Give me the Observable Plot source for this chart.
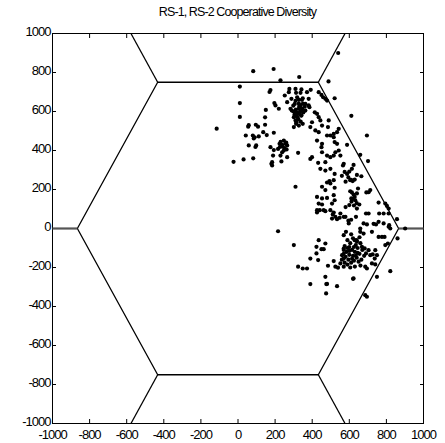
<!DOCTYPE html>
<html>
<head>
<meta charset="utf-8">
<script src="https://cdn.jsdelivr.net/npm/d3@7"></script>
<script src="https://cdn.jsdelivr.net/npm/@observablehq/plot@0.6"></script>
<style>
  body { margin: 0; background: #fff; }
  #wrap { position: relative; width: 445px; height: 443px; }
  #title { position: absolute; top: 5px; left: 0; width: 475px; text-align: center;
           font-family: "Liberation Sans", Arial, sans-serif; font-size: 12.5px; letter-spacing: -0.9px; color: #000; }
  svg text { letter-spacing: -1px; }
</style>
</head>
<body>
<div id="wrap"><div id="title"></div></div>
<script>
const title = "RS-1, RS-2 Cooperative Diversity";
const xTicks = [-1000, -800, -600, -400, -200, 0, 200, 400, 600, 800, 1000];
const yTicks = [-1000, -800, -600, -400, -200, 0, 200, 400, 600, 800, 1000];

// hexagonal cell outline and spokes to neighbouring cells
const hexX = [866, 433, -433, -866, -433, 433, 866];
const hexY = [0, 750, 750, 0, -750, -750, 0];
const spokeX1 = [433, -433, -433, 433];
const spokeY1 = [750, 750, -750, -750];
const spokeX2 = [577, -577, -577, 577];
const spokeY2 = [1000, 1000, -1000, -1000];
const sideX1 = [866, -866];
const sideX2 = [1000, -1000];

// user positions
const upperPts = [
  [540,900],[82,807],[192,818],[229,760],[330,777],[488,754],[10,728],[10,643],[10,572],[-115,512],
  [175,710],[170,700],[196,643],[150,608],[146,570],[146,532],[58,530],[55,522],[96,532],[108,522],
  [42,477],[80,477],[90,468],[85,462],[112,472],[136,494],[155,479],[193,491],[58,426],[98,426],[94,418],[175,417],[193,402],
  [277,716],[310,716],[342,713],[392,711],[274,699],[313,696],[337,696],[372,699],[435,699],[450,685],[459,673],[471,665],
  [480,656],[521,668],[252,682],[288,665],[319,673],[328,660],[349,668],[381,665],[265,648],[306,639],[337,631],[363,639],
  [381,631],[328,614],[346,605],[317,596],[331,588],[202,631],[220,614],[283,614],[301,571],[310,554],[324,562],[342,579],
  [363,605],[385,622],[313,537],[328,528],[301,520],[349,537],[414,596],[426,588],[435,571],[444,554],[453,528],[399,545],
  [390,520],[417,503],[485,520],[489,554],[516,468],[534,494],[543,511],[435,494],[426,451],[453,434],[480,477],[498,477],
  [516,485],[534,434],[521,443],[543,400],[450,417],[247,451],[256,434],[265,426],[238,429],[224,434],[216,408],[247,400],
  [300,600],[312,610],[322,590],[335,600],[345,615],[330,625],[318,575],[305,585],[340,580],[352,595],[325,560],[315,545],
  [338,548],[290,605],[298,630],[350,640],[360,625],[328,640],[310,655],[345,660],
  [240,420],[252,412],[260,440],[230,445],[262,405],[226,418],
  [611,578],[695,477],[588,429],[659,378],[701,346]
];
const middlePts = [
  [189,374],[-24,342],[30,354],[82,360],[184,340],[184,323],[180,332],
  [525,391],[516,374],[498,366],[453,391],[480,374],[471,340],[432,337],[444,306],[471,297],[498,306],[521,280],[570,332],
  [552,374],[390,357],[399,366],[324,388],[238,391],[229,374],[265,366],[234,344],
  [623,326],[614,306],[600,292],[588,280],[641,275],[665,268],
  [310,214],[453,214],[480,236],[493,243],[498,231],[516,248],[521,209],[471,197],[426,162],[453,154],[480,157],[435,128],
  [453,123],[516,171],[521,145],[507,128],[426,94],[426,82],[441,94],[462,94],[471,89],[498,94],[516,82],[511,72],[525,60],
  [507,51],[534,48],[552,77],[570,60],[548,55],
  [605,248],[618,243],[629,251],[647,205],[605,191],[614,185],[623,174],[641,180],[629,162],[611,154],[632,145],[654,123],
  [641,102],[692,185],[713,197],[758,133],[794,128],[803,116],[812,102],[690,77],[704,77],[761,77],[785,77],[812,77],
  [758,34],[785,26],[815,17],[744,21],[695,21],[677,26],[659,0],[636,60],[579,60],[597,26],[812,9],[821,0],[857,48],[901,0],
  [566,323],[704,186],[731,24],[580,240],[595,262],[610,250],[575,290],[560,270],[600,120],[612,138],[625,118],[618,152],
  [640,130],[580,110],[595,40],[610,45]
];
const lowerPts = [
  [216,-14],[301,-85],[435,-60],[423,-94],[450,-106],[462,-106],[471,-77],[423,-128],[390,-154],[432,-162],[324,-196],
  [349,-205],[372,-205],[485,-191],[516,-167],[525,-196],[539,-201],[552,-179],[570,-196],[570,-103],[570,-154],[561,-137],
  [471,-248],[390,-285],[476,-285],[534,-296],[475,-333],[570,-34],
  [582,-17],[659,-17],[677,-26],[722,-17],[758,-43],[776,-43],[790,-43],[860,-51],[629,-60],[641,-68],[668,-94],[683,-102],
  [690,-128],[704,-111],[713,-137],[726,-133],[740,-111],[737,-154],[794,-85],[808,-77],[749,-137],[722,-179],[740,-184],
  [686,-196],[695,-205],[749,-248],[821,-219],[623,-256],[686,-342],[695,-350],[480,-284],[620,-258],
  [590,-60],[605,-75],[620,-50],[635,-85],[600,-95],[615,-110],[630,-120],[645,-100],[660,-75],[575,-90],[585,-120],
  [600,-135],[620,-140],[640,-150],[655,-130],[670,-110],[680,-140],[595,-160],[610,-175],[625,-165],[650,-170],[665,-160],
  [580,-145],[570,-110],[590,-185],[605,-200],[630,-195],[560,-160],[575,-175],[640,-60],[655,-45],[610,-30],[625,-95],
  [590,-100],[645,-125],[615,-155],[600,-115],[660,-190],[570,-130],[635,-140]
];

const points = [...upperPts, ...middlePts, ...lowerPts].map(([x, y]) => ({x, y}));
const hex = hexX.map((x, i) => ({x, y: hexY[i]}));
const spokes = spokeX1.map((x1, i) => ({x1, y1: spokeY1[i], x2: spokeX2[i], y2: spokeY2[i]}));
const sides = sideX1.map((x1, i) => ({x1, x2: sideX2[i], y: 0}));
const fmt = d => String(d);

document.getElementById("title").textContent = title;

const chart = Plot.plot({
  width: 445,
  height: 443,
  marginLeft: 52,
  marginRight: 22,
  marginTop: 33,
  marginBottom: 20,
  style: { fontFamily: "'Liberation Sans', Arial, sans-serif", fontSize: "13px", color: "#000", background: "transparent" },
  x: { domain: [-1000, 1000] },
  y: { domain: [-1000, 1000] },
  marks: [
    Plot.frame({ stroke: "#000", strokeWidth: 1 }),
    Plot.axisX(xTicks, { anchor: "bottom", tickSize: 0, tickPadding: 6, tickFormat: fmt, label: null, fontSize: 13 }),
    Plot.axisY(yTicks, { anchor: "left", tickSize: 0, tickPadding: 2, tickFormat: fmt, label: null, fontSize: 13, dy: -1.5 }),
    Plot.axisX(xTicks, { anchor: "bottom", tickSize: -4, tickFormat: () => "", label: null }),
    Plot.axisX(xTicks, { anchor: "top", tickSize: -4, tickFormat: () => "", label: null }),
    Plot.axisY(yTicks, { anchor: "left", tickSize: -4, tickFormat: () => "", label: null }),
    Plot.axisY(yTicks, { anchor: "right", tickSize: -4, tickFormat: () => "", label: null }),
    Plot.line(hex, { x: "x", y: "y", stroke: "#000", strokeWidth: 1.3 }),
    Plot.link(spokes, { x1: "x1", y1: "y1", x2: "x2", y2: "y2", stroke: "#000", strokeWidth: 1.3 }),
    Plot.link(sides, { x1: "x1", y1: "y", x2: "x2", y2: "y", stroke: "#555", strokeWidth: 2.2 }),
    Plot.dot(points, { x: "x", y: "y", r: 2.1, fill: "#000", stroke: "none" })
  ]
});
document.getElementById("wrap").appendChild(chart);
</script>
</body>
</html>
